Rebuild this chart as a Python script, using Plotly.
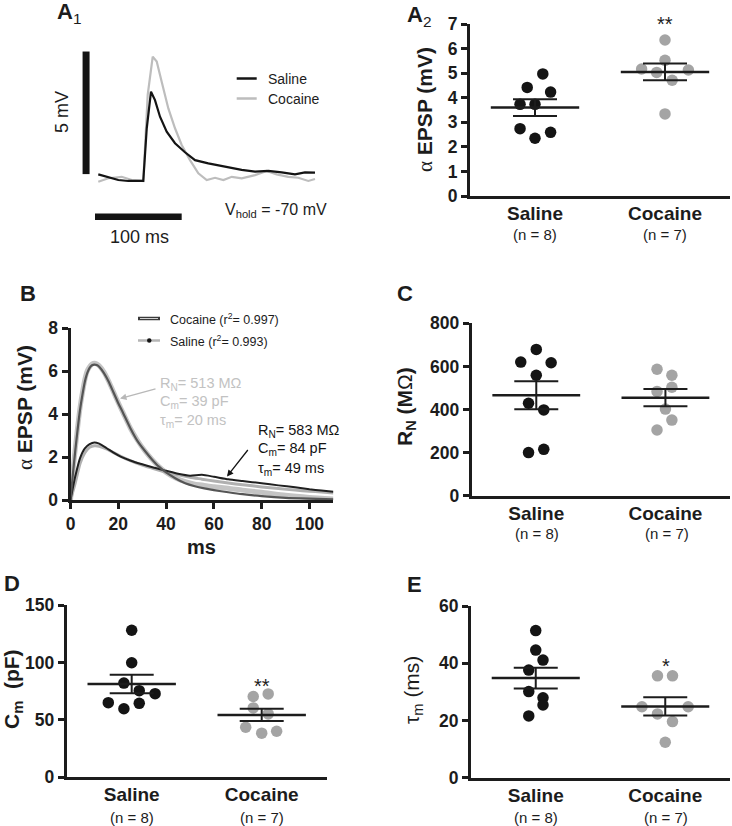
import plotly.graph_objects as go

W, H = 732, 826
FONT = "Liberation Sans, Arial, Helvetica, sans-serif"
BLACK = "#141414"
GREY_DOT = "#a4a4a4"
GREY_TRACE = "#bdbdbd"
AXC = "#1c1c1c"

# ---------------- data ----------------
GROUPS = ["Saline", "Cocaine"]
N_LABELS = ["(n = 8)", "(n = 7)"]

# A1: example EPSP traces (time in ms, potential in mV relative to baseline)
A1_SAL_T = [-2, 9.6, 21.1, 32.6, 49.9, 53.9, 58.8, 63.4, 69.2, 76.9, 86.5, 98, 109.6, 124.9,
            144.2, 163.4, 178.8, 194.1, 209.6, 224.9, 236.4, 248]
A1_SAL_V = [0.15, 0.05, -0.08, -0.12, -0.12, 2.03, 3.52, 3.18, 2.50, 1.89, 1.42, 1.05, 0.73, 0.60,
            0.46, 0.33, 0.26, 0.29, 0.23, 0.15, 0.23, 0.22]
A1_COC_T = [-2, 9.6, 25, 36.6, 49.9, 55.0, 60.8, 65.4, 71.2, 78.8, 86.5, 94.2, 103.8, 113.4,
            123.1, 132.7, 142.3, 152, 163.5, 178.8, 192.3, 203.8, 217.2, 228.7, 240.3, 248]
A1_COC_V = [-0.15, -0.01, 0.05, -0.08, -0.12, 3.39, 4.95, 4.75, 3.92, 2.84, 2.03, 1.35, 0.73, 0.19,
            -0.08, 0.01, -0.08, 0.05, -0.01, 0.12, 0.29, 0.15, 0.05, 0.01, -0.12, -0.04]
SCALE_MS = 100
SCALE_MV = 5

# A2: EPSP amplitude (mV)
EPSP_SAL = [4.97, 4.42, 4.23, 3.73, 3.73, 2.74, 2.59, 2.35]
EPSP_COC = [6.35, 5.52, 5.17, 5.13, 5.03, 4.71, 3.34]
EPSP_MEAN = [3.60, 5.05]
EPSP_SEM = [0.34, 0.34]

# B: averaged EPSPs and fits
B_COC_T = [0, 1, 2, 3, 4, 5, 6, 7, 8, 9, 10, 11, 12, 14, 16, 18, 20, 22, 25, 28, 31, 34, 37, 40,
           44, 48, 52, 56, 60, 66, 72, 80, 90, 100, 110]
B_COC_FIT = [0, 1.2, 2.3, 3.3, 4.2, 4.9, 5.5, 5.9, 6.15, 6.27, 6.3, 6.28, 6.2, 5.9, 5.5, 5.0, 4.5,
             4.05, 3.35, 2.75, 2.3, 1.9, 1.55, 1.28, 1.0, 0.78, 0.64, 0.54, 0.46, 0.36, 0.27, 0.18,
             0.10, 0.06, 0.03]
B_COC_RAW = [0, 1.3, 2.4, 3.4, 4.3, 5.0, 5.6, 6.0, 6.2, 6.32, 6.36, 6.33, 6.24, 5.95, 5.52, 5.02,
             4.52, 4.05, 3.35, 2.78, 2.3, 1.9, 1.55, 1.28, 1.02, 0.85, 0.74, 0.68, 0.62, 0.55, 0.46,
             0.36, 0.22, 0.12, 0.05]
B_SAL_T = [0, 2, 4, 6, 8, 10, 12, 15, 18, 21, 25, 30, 35, 40, 45, 50, 55, 60, 66, 72, 80, 87, 94,
           100, 105, 110]
B_SAL_RAW = [0, 1.1, 1.95, 2.4, 2.6, 2.68, 2.62, 2.42, 2.2, 2.02, 1.84, 1.66, 1.5, 1.36, 1.22, 1.13,
             1.17, 1.08, 0.96, 0.88, 0.78, 0.68, 0.59, 0.5, 0.44, 0.38]
B_SAL_FIT = [0, 0.8, 1.7, 2.2, 2.45, 2.52, 2.5, 2.38, 2.2, 2.03, 1.83, 1.62, 1.45, 1.3, 1.17, 1.06,
             0.97, 0.88, 0.79, 0.71, 0.61, 0.53, 0.46, 0.41, 0.37, 0.33]
B_XTICKS = [0, 20, 40, 60, 80, 100]
B_YTICKS = [0, 2, 4, 6, 8]

# C: input resistance (MOhm)
RN_SAL = [679, 620, 617, 559, 429, 398, 200, 215]
RN_COC = [587, 559, 503, 484, 402, 351, 305]
RN_MEAN = [466, 455]
RN_SEM = [65, 40]

# D: membrane capacitance (pF)
CM_SAL = [128, 99.7, 82, 75.4, 72.8, 65, 64.4, 59.7]
CM_COC = [70.3, 72.6, 60.4, 55.2, 43.6, 40.1, 38.4]
CM_MEAN = [81.2, 54.3]
CM_SEM = [8.0, 5.3]

# E: membrane time constant (ms)
TAU_SAL = [51.4, 44.6, 41.1, 37.6, 30.1, 27.9, 25.4, 21.6]
TAU_COC = [35.6, 35.6, 24.8, 24.8, 22.3, 19.6, 12.4]
TAU_MEAN = [34.8, 24.9]
TAU_SEM = [3.6, 3.2]

# horizontal jitter of the dots (layout, category units)
JIT_EPSP_SAL = [0.06, -0.06, 0.12, -0.115, 0, -0.115, 0.12, 0]
JIT_EPSP_COC = [0, 0, -0.18, 0.18, -0.064, 0.055, 0]
JIT_RN_SAL = [0, -0.12, 0.115, 0, -0.06, 0.058, -0.06, 0.058]
JIT_RN_COC = [-0.065, 0.05, 0.05, -0.065, 0, 0.05, -0.065]
JIT_CM_SAL = [0, 0, -0.06, 0.058, 0.18, -0.18, 0.058, -0.06]
JIT_CM_COC = [-0.065, 0.05, -0.065, 0.05, -0.123, 0.115, 0]
JIT_TAU_SAL = [0, 0, 0.056, -0.054, -0.054, 0.056, 0.056, -0.054]
JIT_TAU_COC = [-0.06, 0.056, -0.18, 0.177, -0.06, 0.056, 0]


# ---------------- helpers ----------------
def px(x):
    return x / W


def py(y):
    return 1 - y / H


def dom(x0, x1, y0, y1):
    return [px(x0), px(x1)], [py(y1), py(y0)]


fig = go.Figure()
annotations = []
shapes = []


def ann(x, y, text, size=14, color=AXC, xanchor="center", yanchor="middle", angle=0, **kw):
    annotations.append(dict(x=px(x), y=py(y), xref="paper", yref="paper", text=text,
                            showarrow=False, xanchor=xanchor, yanchor=yanchor, textangle=angle,
                            font=dict(family=FONT, size=size, color=color), **kw))


MEAN_HW = 0.34

layout_axes = {}


def cat_panel(idx, xd, yd, sal, coc, jsal, jcoc, mean, sem, yr, ytv):
    xs = "x" if idx == 1 else f"x{idx}"
    ys = "y" if idx == 1 else f"y{idx}"
    fig.add_trace(go.Scatter(x=[j for j in jsal], y=sal, mode="markers", xaxis=xs, yaxis=ys,
                             marker=dict(size=11.5, color=BLACK, line=dict(width=0)), hoverinfo="y"))
    fig.add_trace(go.Scatter(x=[1 + j for j in jcoc], y=coc, mode="markers", xaxis=xs, yaxis=ys,
                             marker=dict(size=11.5, color=GREY_DOT, line=dict(width=0)), hoverinfo="y"))
    mx, my = [], []
    for i, m in enumerate(mean):
        mx += [i - MEAN_HW, i + MEAN_HW, None]
        my += [m, m, None]
    fig.add_trace(go.Scatter(x=mx, y=my, mode="lines", xaxis=xs, yaxis=ys,
                             line=dict(color=AXC, width=2.5), hoverinfo="skip"))
    fig.add_trace(go.Scatter(x=[0, 1], y=mean, mode="markers", xaxis=xs, yaxis=ys,
                             marker=dict(size=1, color="rgba(0,0,0,0)"),
                             error_y=dict(type="data", array=sem, visible=True, width=22,
                                          thickness=2, color=AXC), hoverinfo="skip"))
    xn = "xaxis" if idx == 1 else f"xaxis{idx}"
    yn = "yaxis" if idx == 1 else f"yaxis{idx}"
    layout_axes[xn] = dict(domain=xd, anchor=ys, range=[-0.5, 1.5], tickvals=[0, 1],
                           ticktext=GROUPS, ticks="", showline=True, linewidth=3,
                           linecolor=AXC, showgrid=False, zeroline=False, automargin=False,
                           ticklabelstandoff=-2,
                           tickfont=dict(family=FONT, size=19, color=AXC, weight="bold"))
    layout_axes[yn] = dict(domain=yd, anchor=xs, range=yr, tickvals=ytv, ticks="outside",
                           ticklen=6, tickwidth=2.5, tickcolor=AXC, showline=True, linewidth=3,
                           linecolor=AXC, showgrid=False, zeroline=False, automargin=False,
                           tickfont=dict(family=FONT, size=17.5, color=AXC, weight="bold"))


# ---------------- A1 ----------------
xd, yd = dom(80, 330, 40, 230)
fig.add_trace(go.Scatter(x=A1_COC_T, y=A1_COC_V, mode="lines", xaxis="x", yaxis="y",
                         line=dict(color=GREY_TRACE, width=2.2), hoverinfo="skip"))
fig.add_trace(go.Scatter(x=A1_SAL_T, y=A1_SAL_V, mode="lines", xaxis="x", yaxis="y",
                         line=dict(color=BLACK, width=2.2), hoverinfo="skip"))
layout_axes["xaxis"] = dict(domain=xd, anchor="y", range=[-23.1, 265.3], visible=False,
                            automargin=False)
layout_axes["yaxis"] = dict(domain=yd, anchor="x", range=[-2.12, 5.63], visible=False,
                            automargin=False)
# scale bars
shapes.append(dict(type="line", xref="x", yref="y", x0=-16.1, x1=-16.1, y0=0.16,
                   y1=0.16 + SCALE_MV, line=dict(color=BLACK, width=7)))
shapes.append(dict(type="line", xref="x", yref="y", x0=-5.8, x1=-5.8 + SCALE_MS, y0=-1.58,
                   y1=-1.58, line=dict(color=BLACK, width=6.5)))
ann(62, 112, f"{SCALE_MV} mV", size=18, angle=-90)
ann(139, 237, f"{SCALE_MS} ms", size=18)
ann(276, 210, "V<sub>hold</sub> = -70 mV", size=16)
# A1 legend
shapes.append(dict(type="line", xref="paper", yref="paper", x0=px(236.7), x1=px(256.7),
                   y0=py(78.5), y1=py(78.5), line=dict(color=BLACK, width=2.5)))
shapes.append(dict(type="line", xref="paper", yref="paper", x0=px(236.7), x1=px(256.7),
                   y0=py(98.5), y1=py(98.5), line=dict(color=GREY_TRACE, width=2.5)))
ann(266, 79, "Saline", size=14, xanchor="left")
ann(266, 99, "Cocaine", size=14, xanchor="left")

# ---------------- A2 ----------------
xd, yd = dom(470, 730, 24, 196)
cat_panel(2, xd, yd, EPSP_SAL, EPSP_COC, JIT_EPSP_SAL, JIT_EPSP_COC, EPSP_MEAN, EPSP_SEM,
          [0, 7], [0, 1, 2, 3, 4, 5, 6, 7])

# ---------------- B ----------------
xd, yd = dom(70.5, 333.4, 328, 500)
fig.add_trace(go.Scatter(x=B_COC_T, y=B_COC_RAW, mode="lines", xaxis="x3", yaxis="y3",
                         line=dict(color="#c4c4c4", width=5, shape="spline", smoothing=0.6),
                         hoverinfo="skip"))
fig.add_trace(go.Scatter(x=B_SAL_T, y=B_SAL_FIT, mode="lines", xaxis="x3", yaxis="y3",
                         line=dict(color="#b0b0b0", width=3, shape="spline", smoothing=0.6),
                         hoverinfo="skip"))
fig.add_trace(go.Scatter(x=B_SAL_T, y=B_SAL_RAW, mode="lines", xaxis="x3", yaxis="y3",
                         line=dict(color="#202020", width=2, shape="spline", smoothing=0.6),
                         hoverinfo="skip"))
fig.add_trace(go.Scatter(x=B_COC_T, y=B_COC_FIT, mode="lines", xaxis="x3", yaxis="y3",
                         line=dict(color="#555555", width=2.2, shape="spline", smoothing=0.6),
                         hoverinfo="skip"))
layout_axes["xaxis3"] = dict(domain=xd, anchor="y3", range=[0, 110], tickvals=B_XTICKS,
                             ticks="outside", ticklen=6, tickwidth=2.5, tickcolor=AXC,
                             showline=True, linewidth=3, linecolor=AXC, showgrid=False,
                             zeroline=False, automargin=False,
                             tickfont=dict(family=FONT, size=17.5, color=AXC, weight="bold"))
layout_axes["yaxis3"] = dict(domain=yd, anchor="x3", range=[0, 8], tickvals=B_YTICKS,
                             ticks="outside", ticklen=6, tickwidth=2.5, tickcolor=AXC,
                             showline=True, linewidth=3, linecolor=AXC, showgrid=False,
                             zeroline=False, automargin=False,
                             tickfont=dict(family=FONT, size=17.5, color=AXC, weight="bold"))
ann(201, 547, "<b>ms</b>", size=20)
# B legend
shapes.append(dict(type="line", xref="paper", yref="paper", x0=px(138), x1=px(160),
                   y0=py(318.5), y1=py(318.5), line=dict(color="#3a3a3a", width=3.5)))
shapes.append(dict(type="line", xref="paper", yref="paper", x0=px(140), x1=px(158),
                   y0=py(318.5), y1=py(318.5), line=dict(color="#cfcfcf", width=1)))
shapes.append(dict(type="line", xref="paper", yref="paper", x0=px(138), x1=px(160),
                   y0=py(340.5), y1=py(340.5), line=dict(color="#b5b5b5", width=2.5)))
shapes.append(dict(type="circle", xref="paper", yref="paper", x0=px(147), x1=px(151.5),
                   y0=py(342.7), y1=py(338.3), fillcolor=BLACK, line=dict(width=0)))
ann(168, 319, "Cocaine (r<sup>2</sup>= 0.997)", size=12.5, xanchor="left")
ann(168, 341, "Saline (r<sup>2</sup>= 0.993)", size=12.5, xanchor="left")
# B fit parameters
GTXT = "#c2c2c2"
ann(158, 384, "R<sub>N</sub>= 513 MΩ", size=14.5, color=GTXT, xanchor="left")
ann(158, 402, "C<sub>m</sub>= 39 pF", size=14.5, color=GTXT, xanchor="left")
ann(158, 421, "τ<sub>m</sub>= 20 ms", size=14.5, color=GTXT, xanchor="left")
ann(256, 431, "R<sub>N</sub>= 583 MΩ", size=14.5, color=BLACK, xanchor="left")
ann(256, 449, "C<sub>m</sub>= 84 pF", size=14.5, color=BLACK, xanchor="left")
ann(256, 469, "τ<sub>m</sub>= 49 ms", size=14.5, color=BLACK, xanchor="left")
annotations.append(dict(x=px(120), y=py(398.5), xref="paper", yref="paper", text="",
                        showarrow=True, ax=37, ay=-10, axref="pixel", ayref="pixel",
                        arrowhead=2, arrowsize=1, arrowwidth=1.3, arrowcolor="#b8b8b8"))
annotations.append(dict(x=px(227), y=py(476.5), xref="paper", yref="paper", text="",
                        showarrow=True, ax=22, ay=-28, axref="pixel", ayref="pixel",
                        arrowhead=2, arrowsize=1, arrowwidth=1.3, arrowcolor=BLACK))

# ---------------- C ----------------
xd, yd = dom(471.7, 730, 323.3, 495.7)
cat_panel(4, xd, yd, RN_SAL, RN_COC, JIT_RN_SAL, JIT_RN_COC, RN_MEAN, RN_SEM,
          [0, 800], [0, 200, 400, 600, 800])

# ---------------- D ----------------
xd, yd = dom(66.7, 326.7, 605, 777.3)
cat_panel(5, xd, yd, CM_SAL, CM_COC, JIT_CM_SAL, JIT_CM_COC, CM_MEAN, CM_SEM,
          [0, 150], [0, 50, 100, 150])

# ---------------- E ----------------
xd, yd = dom(471, 730, 606, 777.7)
cat_panel(6, xd, yd, TAU_SAL, TAU_COC, JIT_TAU_SAL, JIT_TAU_COC, TAU_MEAN, TAU_SEM,
          [0, 60], [0, 20, 40, 60])

# n labels under categories
for xs0, yline in [(470, 235), (471.7, 533), (66.7, 817), (471, 817)]:
    for i, lab in enumerate(N_LABELS):
        ann(xs0 + 65 + 130 * i, yline, lab, size=15)

# y titles
ALPHA = '<span style="font-family:Liberation Serif, serif;font-weight:normal">α</span>'
ann(425, 110, ALPHA + " <b>EPSP (mV)</b>", size=21, angle=-90)
ann(25, 408, ALPHA + " <b>EPSP (mV)</b>", size=21, angle=-90)
ann(406, 406, "<b>R<sub>N</sub> (M</b>Ω<b>)</b>", size=21, angle=-90)
ann(13, 689, "<b>C<sub>m</sub>  (pF)</b>", size=21, angle=-90)
ann(413, 690, "τ<sub>m</sub> (ms)", size=21, angle=-90)

# significance
ann(665, 24, "**", size=20)
ann(261.7, 686, "**", size=20)
ann(665.7, 666, "*", size=20)

# panel letters
ann(55, 13, "<b>A</b><sub>1</sub>", size=22, xanchor="left")
ann(405, 16, "<b>A</b><sub>2</sub>", size=22, xanchor="left")
ann(18, 294, "<b>B</b>", size=22, xanchor="left")
ann(395, 294, "<b>C</b>", size=22, xanchor="left")
ann(2, 583, "<b>D</b>", size=22, xanchor="left")
ann(405, 584, "<b>E</b>", size=22, xanchor="left")

fig.update_layout(width=W, height=H, margin=dict(l=0, r=0, t=0, b=0, autoexpand=False),
                  paper_bgcolor="white", plot_bgcolor="white", showlegend=False,
                  font=dict(family=FONT, color=AXC), annotations=annotations, shapes=shapes,
                  **layout_axes)
fig.write_html("out.html", config={"displayModeBar": False},
               post_script="document.body.style.margin='0px';document.body.style.padding='0px';")
